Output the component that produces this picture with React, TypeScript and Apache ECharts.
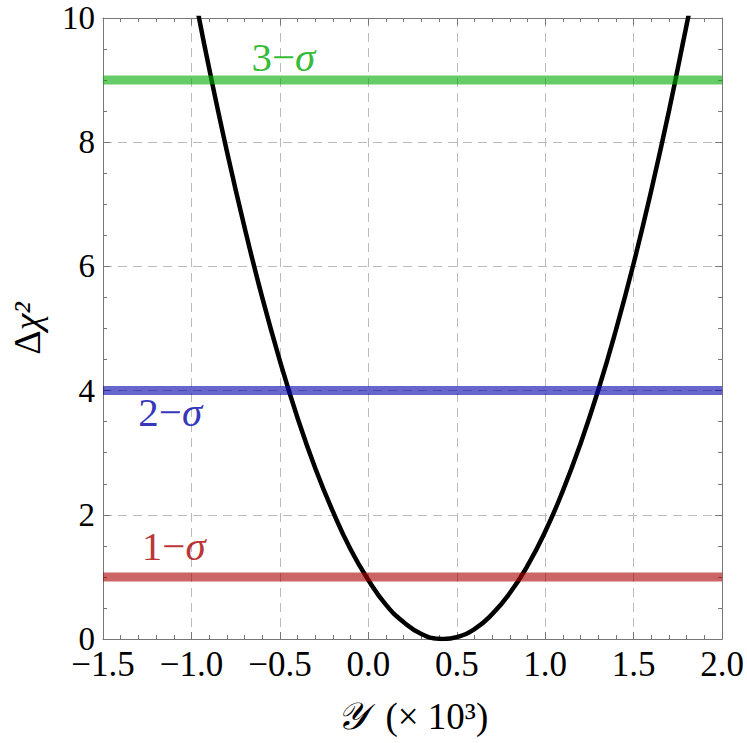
import React, { useEffect, useRef } from "react";
import * as echarts from "echarts";

// Δχ² profile curve (x in units of 10^3)
const curveX = [-0.97, -0.9, -0.8, -0.7, -0.6, -0.5, -0.4, -0.3, -0.2, -0.1, 0.0, 0.1, 0.2, 0.3, 0.4, 0.425, 0.5, 0.6, 0.7, 0.8, 0.9, 1.0, 1.1, 1.2, 1.3, 1.4, 1.5, 1.6, 1.7, 1.8, 1.83];
const curveY = [10.19, 9.19, 7.86, 6.63, 5.5, 4.48, 3.56, 2.75, 2.05, 1.44, 0.95, 0.55, 0.27, 0.08, 0.003, 0.0, 0.03, 0.16, 0.4, 0.74, 1.18, 1.73, 2.39, 3.15, 4.01, 4.98, 6.05, 7.23, 8.51, 9.9, 10.3];

// sigma levels
const sigmaLevels = [1, 4, 9];
const sigmaColors = ["#aa0000", "#0000aa", "#00aa00"];
const sigmaNumbers = ["1", "2", "3"];
const sigmaLabelX = [-1.1, -1.12, -0.48];
const sigmaLabelY = [1.5, 3.66, 9.38];

// axes
const xTicks = [-1.5, -1.0, -0.5, 0.0, 0.5, 1.0, 1.5, 2.0];
const yTicks = [0, 2, 4, 6, 8, 10];

const FONT = "Liberation Serif";

export default function App() {
  const ref = useRef<HTMLDivElement>(null);
  useEffect(() => {
    if (!ref.current) return;
    const chart = echarts.init(ref.current, undefined, { renderer: "svg" });
    const xMin = xTicks[0];
    const xMax = xTicks[xTicks.length - 1];
    const xInt = xTicks[1] - xTicks[0];
    const yMin = yTicks[0];
    const yMax = yTicks[yTicks.length - 1];
    const yInt = yTicks[1] - yTicks[0];
    const frame = { show: true, onZero: false, lineStyle: { color: "#777", width: 1 } };
    const tick = { show: true, inside: true, length: 7, lineStyle: { color: "#777" } };
    const minor = { show: true, splitNumber: 5, length: 4, lineStyle: { color: "#777" } };
    const minorY = { show: true, splitNumber: 4, length: 4, lineStyle: { color: "#777" } };
    const grid = { show: true, lineStyle: { color: "#bbb", type: [9, 6] as any, width: 1 } };
    const fmtX = (v: number) => (v < 0 ? "−" : "") + Math.abs(v).toFixed(1);

    const series: any[] = [
      {
        type: "line",
        data: curveX.map((x, i) => [x, curveY[i]]),
        smooth: true,
        showSymbol: false,
        lineStyle: { color: "#000", width: 4.5 },
        clip: true,
        z: 2,
      },
    ];
    sigmaLevels.forEach((lv, i) => {
      series.push({
        type: "line",
        data: [[xMin, lv], [xMax, lv]],
        showSymbol: false,
        lineStyle: { color: sigmaColors[i], width: 9, opacity: 0.6 },
        z: 3,
      });
    });
    series.push({
      type: "scatter",
      symbolSize: 0,
      z: 4,
      data: sigmaNumbers.map((t, i) => ({
        name: t,
        value: [sigmaLabelX[i], sigmaLabelY[i]],
        label: {
          rich: {
            n: { fontFamily: FONT, fontSize: 41, color: sigmaColors[i] },
            i: { fontFamily: FONT, fontSize: 41, fontStyle: "italic", color: sigmaColors[i] },
          },
        },
      })),
      label: {
        show: true,
        position: "inside",
        formatter: (p: any) => `{n|${p.name}−}{i|σ}`,
      },
    });

    chart.setOption({
      animation: false,
      grid: { left: 102, right: 23, top: 18, bottom: 104 },
      xAxis: [
        {
          type: "value",
          min: xMin,
          max: xMax,
          interval: xInt,
          axisLine: frame,
          axisTick: tick,
          minorTick: minor,
          splitLine: grid,
          axisLabel: { formatter: fmtX, fontFamily: FONT, fontSize: 35, lineHeight: 28, color: "#000", margin: 11 },
          name: "{s|𝒴}  {n|(× 10³)}",
          nameLocation: "middle",
          nameGap: 58,
          nameTextStyle: {
            fontFamily: FONT,
            fontSize: 37,
            color: "#000",
            rich: {
              s: { fontFamily: "DejaVu Serif", fontSize: 38, fontStyle: "italic", color: "#000" },
              n: { fontFamily: FONT, fontSize: 37, color: "#000" },
            },
          },
        },
        {
          type: "value",
          position: "top",
          min: xMin,
          max: xMax,
          interval: xInt,
          axisLine: frame,
          axisTick: tick,
          minorTick: minor,
          splitLine: { show: false },
          axisLabel: { show: false },
        },
      ],
      yAxis: [
        {
          type: "value",
          min: yMin,
          max: yMax,
          interval: yInt,
          axisLine: frame,
          axisTick: tick,
          minorTick: minorY,
          splitLine: grid,
          axisLabel: { fontFamily: FONT, fontSize: 33, lineHeight: 26, color: "#000", margin: 8 },
          name: "{n|Δ}{i|χ²}",
          nameLocation: "middle",
          nameRotate: 90,
          nameGap: 57,
          nameTextStyle: {
            fontFamily: FONT,
            fontSize: 38,
            color: "#000",
            rich: {
              n: { fontFamily: FONT, fontSize: 38, color: "#000" },
              i: { fontFamily: FONT, fontSize: 38, fontStyle: "italic", color: "#000" },
            },
          },
        },
        {
          type: "value",
          position: "right",
          min: yMin,
          max: yMax,
          interval: yInt,
          axisLine: frame,
          axisTick: tick,
          minorTick: minorY,
          splitLine: { show: false },
          axisLabel: { show: false },
        },
      ],
      series,
    });
    return () => chart.dispose();
  }, []);
  return (
    <div
      ref={ref}
      style={{ position: "fixed", left: 0, top: 0, width: 747, height: 743, background: "#fff" }}
    />
  );
}
